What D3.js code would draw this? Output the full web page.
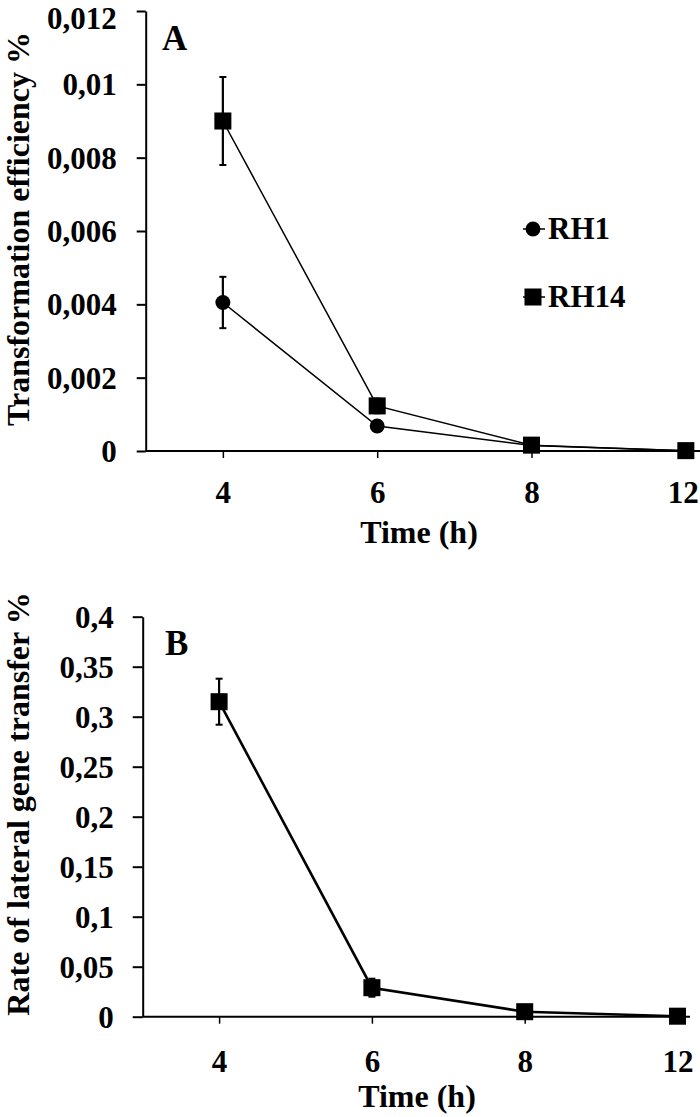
<!DOCTYPE html>
<html>
<head>
<meta charset="utf-8">
<script src="https://cdn.jsdelivr.net/npm/d3@7"></script>
<style>
  html, body { margin: 0; padding: 0; background: #fff; }
  svg { display: block; }
  text { font-family: "Liberation Serif", "Times New Roman", serif; font-weight: bold; fill: #000; }
</style>
</head>
<body>
<svg id="chart" width="700" height="1117"></svg>
<script>
// ---------- data ----------
const times = ["4", "6", "8", "12"];

// Panel A: transformation efficiency %
const rh1Values = [0.00405, 0.00068, 0.00015, 0.00001];
const rh1Errors = [0.0007, 0.00006, 0, 0];
const rh14Values = [0.0090, 0.00123, 0.00016, 0.00001];
const rh14Errors = [0.0012, 0.0002, 0, 0];
const yTickValuesA = [0, 0.002, 0.004, 0.006, 0.008, 0.01, 0.012];
const yTickLabelsA = ["0", "0,002", "0,004", "0,006", "0,008", "0,01", "0,012"];

// Panel B: rate of lateral gene transfer %
const lgtValues = [0.315, 0.029, 0.005, 0.0005];
const lgtErrors = [0.023, 0.009, 0.002, 0];
const yTickValuesB = [0, 0.05, 0.1, 0.15, 0.2, 0.25, 0.3, 0.35, 0.4];
const yTickLabelsB = ["0", "0,05", "0,1", "0,15", "0,2", "0,25", "0,3", "0,35", "0,4"];

const legendNames = ["RH1", "RH14"];

// ---------- drawing ----------
const svg = d3.select("#chart");
const TICK_FONT = 31;

function panel(cfg) {
  const g = svg.append("g");
  const x = d3.scalePoint().domain(times).range([cfg.left, cfg.rightRange]).padding(0.5);
  const y = d3.scaleLinear().domain([0, cfg.yMax]).range([cfg.bottom, cfg.top]);

  // y axis
  const yAxis = d3.axisLeft(y).tickValues(cfg.yTicks)
    .tickFormat((d, i) => cfg.yLabels[i]).tickSize(cfg.yTickSize).tickSizeOuter(0).tickPadding(cfg.yPad);
  const ya = g.append("g").attr("transform", `translate(${cfg.left},0)`).call(yAxis);
  ya.attr("font-family", null).attr("font-size", null);
  ya.select(".domain").attr("stroke", "#000").attr("stroke-width", 2);
  ya.selectAll(".tick line").attr("stroke", "#000").attr("stroke-width", 2);
  ya.selectAll(".tick text").style("font-size", TICK_FONT + "px")
    .attr("dy", (d, i) => (i === cfg.yTicks.length - 1 && cfg.top < 20) ? "0.56em" : "0.34em");

  // x axis
  const xAxis = d3.axisBottom(x).tickSize(7).tickSizeOuter(0).tickPadding(cfg.xPad);
  const xa = g.append("g").attr("transform", `translate(0,${cfg.bottom})`).call(xAxis);
  xa.attr("font-family", null).attr("font-size", null);
  xa.select(".domain").remove();
  xa.append("line").attr("x1", cfg.left).attr("x2", cfg.axisEnd)
    .attr("y1", 0).attr("y2", 0).attr("stroke", "#000").attr("stroke-width", 2);
  xa.selectAll(".tick line").attr("stroke", "#000").attr("stroke-width", 1.5);
  xa.selectAll(".tick text").style("font-size", TICK_FONT + "px")
    .attr("dx", (d, i) => (i === times.length - 1 && cfg.lastDx) ? cfg.lastDx : 0);

  // series
  cfg.series.forEach(s => {
    const pts = times.map((t, i) => ({ t, v: s.values[i], e: s.errors[i] }));
    const line = d3.line().x(d => x(d.t)).y(d => y(d.v));
    g.append("path").datum(pts).attr("d", line)
      .attr("fill", "none").attr("stroke", "#000").attr("stroke-width", cfg.lineWidth);
    // error bars
    const eb = g.append("g");
    pts.filter(d => d.e > 0).forEach(d => {
      const cx = x(d.t);
      eb.append("line").attr("x1", cx).attr("x2", cx)
        .attr("y1", y(d.v + d.e)).attr("y2", y(d.v - d.e))
        .attr("stroke", "#000").attr("stroke-width", 2.2);
      [d.v + d.e, d.v - d.e].forEach(v => {
        eb.append("line").attr("x1", cx - 3.5).attr("x2", cx + 3.5)
          .attr("y1", y(v)).attr("y2", y(v)).attr("stroke", "#000").attr("stroke-width", 2);
      });
    });
    // markers
    const sym = d3.symbol().type(s.shape === "circle" ? d3.symbolCircle : d3.symbolSquare)
      .size(s.shape === "circle" ? 175 : 290);
    g.append("g").selectAll("path").data(pts).join("path")
      .attr("d", sym).attr("transform", d => `translate(${x(d.t)},${y(d.v)})`)
      .attr("fill", "#000");
  });

  // titles
  g.append("text").attr("x", cfg.xTitleX).attr("y", cfg.xTitleY)
    .attr("text-anchor", "middle").style("font-size", "32px").text("Time (h)");
  g.append("text").attr("transform", `translate(${cfg.yTitleX},${cfg.yTitleY}) rotate(-90)`)
    .attr("text-anchor", "middle").style("font-size", "32px").text(cfg.yTitle);
  g.append("text").attr("x", cfg.letterX).attr("y", cfg.letterY)
    .style("font-size", "35px").text(cfg.letter);
  return { x, y, g };
}

const A = panel({
  left: 145.7, rightRange: 763, axisEnd: 700, top: 11, bottom: 451, yMax: 0.012,
  yTicks: yTickValuesA, yLabels: yTickLabelsA, yTickSize: 9, yPad: 20, xPad: 23, lineWidth: 1.5,
  lastDx: -3,
  series: [
    { values: rh1Values, errors: rh1Errors, shape: "circle" },
    { values: rh14Values, errors: rh14Errors, shape: "square" }
  ],
  xTitleX: 419, xTitleY: 543,
  yTitleX: 29, yTitleY: 229, yTitle: "Transformation efficiency %",
  letter: "A", letterX: 162, letterY: 50
});

const B = panel({
  left: 142.7, rightRange: 753.9, axisEnd: 690, top: 616.7, bottom: 1016.7, yMax: 0.4,
  yTicks: yTickValuesB, yLabels: yTickLabelsB, yTickSize: 10, yPad: 19, xPad: 26, lineWidth: 2.6,
  lastDx: 0,
  series: [
    { values: lgtValues, errors: lgtErrors, shape: "square" }
  ],
  xTitleX: 417, xTitleY: 1107,
  yTitleX: 29, yTitleY: 804, yTitle: "Rate of lateral gene transfer %",
  letter: "B", letterX: 165, letterY: 655
});

// legend (panel A)
const legend = svg.append("g");
const legendShapes = [d3.symbolCircle, d3.symbolSquare];
const legendSizes = [175, 290];
const legendY = [229, 297];
legendNames.forEach((name, i) => {
  legend.append("line").attr("x1", 523).attr("x2", 545)
    .attr("y1", legendY[i]).attr("y2", legendY[i]).attr("stroke", "#000").attr("stroke-width", 1.5);
  legend.append("path").attr("d", d3.symbol().type(legendShapes[i]).size(legendSizes[i])())
    .attr("transform", `translate(533,${legendY[i]})`).attr("fill", "#000");
  legend.append("text").attr("x", 548).attr("y", legendY[i] + 10)
    .style("font-size", TICK_FONT + "px").text(name);
});
</script>
</body>
</html>
